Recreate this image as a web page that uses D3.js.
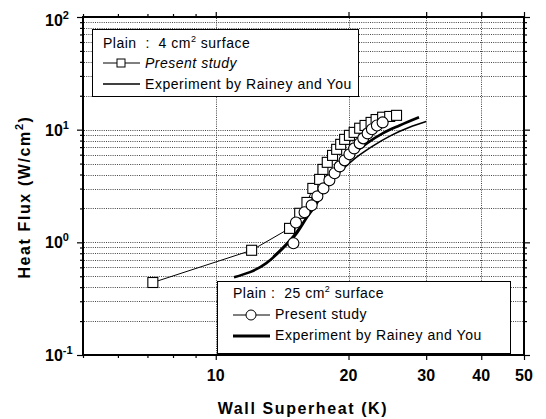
<!DOCTYPE html>
<html>
<head>
<meta charset="utf-8">
<script src="https://cdn.jsdelivr.net/npm/d3@7"></script>
<style>
  body { margin: 0; background: #fff; }
  text { font-family: "Liberation Sans", Arial, Helvetica, sans-serif; fill: #000; white-space: pre; }
</style>
</head>
<body>
<div id="chart"></div>
<script>
// 4 cm2 surface, present study (squares)
const sqX = [7.2, 12.06, 14.7, 15.5, 16.1, 16.6, 17.2, 17.5, 17.9, 18.4, 18.8, 19.2, 19.6, 20.1, 20.6, 21.2, 21.8, 22.5, 23.1, 23.9, 24.8, 25.7];
const sqY = [0.44, 0.85, 1.33, 1.81, 2.26, 3.01, 3.62, 4.44, 5.13, 5.91, 6.69, 7.41, 8.20, 8.90, 9.46, 10.3, 10.9, 11.6, 12.3, 12.9, 13.1, 13.4];

// 25 cm2 surface, present study (circles)
const ciX = [15.0, 15.2, 15.9, 16.5, 17.0, 17.55, 18.1, 18.6, 19.1, 19.6, 20.1, 20.6, 21.2, 21.6, 22.1, 22.6, 23.2, 23.9];
const ciY = [0.98, 1.50, 1.85, 2.13, 2.56, 3.01, 3.55, 4.10, 4.72, 5.34, 6.04, 6.82, 7.56, 8.37, 9.27, 10.1, 10.9, 11.6];

// Rainey and You, 4 cm2 (thin line)
const rThinX = [13.5, 15.0, 16.2, 17.5, 19.0, 20.5, 22.5, 25.0, 27.5, 30.0];
const rThinY = [0.75, 1.15, 1.75, 2.75, 4.1, 5.4, 7.0, 8.9, 10.5, 11.8];

// Rainey and You, 25 cm2 (thick line)
const rThickX = [11.0, 13.0, 14.2, 15.25, 16.1, 17.1, 17.8, 19.1, 20.1, 22.0, 23.9, 26.1, 28.9];
const rThickY = [0.49, 0.65, 0.885, 1.20, 1.67, 2.36, 3.34, 4.54, 5.68, 7.56, 9.27, 10.9, 12.9];

// axis ticks
const xMajor = [10, 20, 30, 40, 50];
const xGrid = [10, 20, 30, 40];
const yMajor = [0.1, 1, 10, 100];
const yExp = [-1, 0, 1, 2];

const width = 546, height = 419;
const svg = d3.select('#chart')
    .append('svg')
    .attr('width', width)
    .attr('height', height);

const x = d3.scaleLog().domain([5, 50]).range([83, 524]);
const y = d3.scaleLog().domain([0.1, 100]).range([355, 17]);

const xMinor = x.ticks().filter(d => xMajor.indexOf(d) < 0);
const yAll = y.ticks();
const yMinor = yAll.filter(d => yMajor.indexOf(d) < 0);

// grid
svg.append('g')
    .selectAll('line')
    .data(yAll.filter(d => d > 0.1 && d < 100))
    .enter()
    .append('line')
    .attr('x1', 84).attr('x2', 523)
    .attr('y1', d => Math.round(y(d)) + 0.5)
    .attr('y2', d => Math.round(y(d)) + 0.5)
    .attr('stroke', '#444')
    .attr('stroke-width', 1)
    .attr('stroke-dasharray', '1,1.2');

svg.append('g')
    .selectAll('line')
    .data(xGrid)
    .enter()
    .append('line')
    .attr('x1', d => Math.round(x(d)) + 0.5)
    .attr('x2', d => Math.round(x(d)) + 0.5)
    .attr('y1', 18).attr('y2', 354)
    .attr('stroke', '#444')
    .attr('stroke-width', 1)
    .attr('stroke-dasharray', '1,1.2');

// axes (ticks outward on all four sides)
function tickAxis(axisFn, scale, values, size, tr) {
    const g = svg.append('g')
        .attr('transform', tr)
        .call(axisFn(scale).tickValues(values).tickSize(size).tickFormat(''));
    g.select('.domain').remove();
    g.selectAll('line').attr('stroke', '#000').attr('stroke-width', 1.2);
    return g;
}
tickAxis(d3.axisBottom, x, xMinor, 3, 'translate(0,355)');
tickAxis(d3.axisBottom, x, xMajor, 5, 'translate(0,355)');
tickAxis(d3.axisTop, x, xMinor, 3, 'translate(0,17)');
tickAxis(d3.axisTop, x, xMajor, 5, 'translate(0,17)');
tickAxis(d3.axisLeft, y, yMinor, 3, 'translate(83,0)');
tickAxis(d3.axisLeft, y, yMajor, 6, 'translate(83,0)');
tickAxis(d3.axisRight, y, yMinor, 3, 'translate(524,0)');
tickAxis(d3.axisRight, y, yMajor, 6, 'translate(524,0)');

// x tick labels
svg.append('g')
    .selectAll('text')
    .data(xMajor)
    .enter()
    .append('text')
    .attr('x', d => x(d))
    .attr('y', 381)
    .attr('text-anchor', 'middle')
    .style('font-size', '16px')
    .style('font-weight', 'bold')
    .text(d => d);

// y tick labels 10^n
const yl = svg.append('g')
    .selectAll('text')
    .data(yMajor)
    .enter()
    .append('text')
    .attr('x', 45)
    .attr('y', (d, i) => Math.max(y(d) + 6, 26))
    .style('font-size', '16px')
    .style('font-weight', 'bold');
yl.append('tspan').text('10');
yl.append('tspan')
    .attr('dy', -7)
    .style('font-size', '11px')
    .text((d, i) => yExp[i] < 0 ? '-' + Math.abs(yExp[i]) : yExp[i]);

// axis titles
svg.append('text')
    .attr('x', 303)
    .attr('y', 414)
    .attr('text-anchor', 'middle')
    .style('font-size', '16px')
    .style('font-weight', 'bold')
    .style('letter-spacing', '1.6px')
    .text('Wall Superheat (K)');

const yt = svg.append('text')
    .attr('transform', 'translate(30,197) rotate(-90)')
    .attr('text-anchor', 'middle')
    .style('font-size', '16px')
    .style('font-weight', 'bold')
    .style('letter-spacing', '1.6px');
yt.append('tspan').text('Heat Flux (W/cm');
yt.append('tspan').attr('dy', -7).style('font-size', '11px').text('2');
yt.append('tspan').attr('dy', 7).text(')');

// Rainey and You curves
const curve = d3.line()
    .x(d => x(d[0]))
    .y(d => y(d[1]))
    .curve(d3.curveMonotoneX);

svg.append('path')
    .datum(rThinX.map((v, i) => [v, rThinY[i]]))
    .attr('d', curve)
    .attr('fill', 'none')
    .attr('stroke', '#000')
    .attr('stroke-width', 1.6);

svg.append('path')
    .datum(rThickX.map((v, i) => [v, rThickY[i]]))
    .attr('d', curve)
    .attr('fill', 'none')
    .attr('stroke', '#000')
    .attr('stroke-width', 2.6);

// present study: connecting lines
const straight = d3.line().x(d => x(d[0])).y(d => y(d[1]));
const sqData = sqX.map((v, i) => [v, sqY[i]]);
const ciData = ciX.map((v, i) => [v, ciY[i]]);

svg.append('path')
    .datum(sqData)
    .attr('d', straight)
    .attr('fill', 'none')
    .attr('stroke', '#000')
    .attr('stroke-width', 1);

svg.append('path')
    .datum(ciData)
    .attr('d', straight)
    .attr('fill', 'none')
    .attr('stroke', '#000')
    .attr('stroke-width', 1);

// markers
svg.append('g')
    .selectAll('rect')
    .data(sqData)
    .enter()
    .append('rect')
    .attr('x', d => x(d[0]) - 5)
    .attr('y', d => y(d[1]) - 5)
    .attr('width', 10)
    .attr('height', 10)
    .attr('fill', '#fff')
    .attr('stroke', '#000')
    .attr('stroke-width', 1.1);

svg.append('g')
    .selectAll('circle')
    .data(ciData)
    .enter()
    .append('circle')
    .attr('cx', d => x(d[0]))
    .attr('cy', d => y(d[1]))
    .attr('r', 5.5)
    .attr('fill', '#fff')
    .attr('stroke', '#000')
    .attr('stroke-width', 1.1);

// frame
svg.append('rect')
    .attr('x', 83).attr('y', 17)
    .attr('width', 441).attr('height', 338)
    .attr('fill', 'none')
    .attr('stroke', '#000')
    .attr('stroke-width', 2);

// legend 1 (4 cm2)
const lg1 = svg.append('g');
lg1.append('rect')
    .attr('x', 92.5).attr('y', 29.5)
    .attr('width', 266).attr('height', 67)
    .attr('fill', '#fff')
    .attr('stroke', '#000')
    .attr('stroke-width', 1);
const t1 = lg1.append('text').attr('x', 103).attr('y', 48).style('font-size', '14px').style('letter-spacing', '0.5px');
t1.append('tspan').text('Plain  :  4 cm');
t1.append('tspan').attr('dy', -6).style('font-size', '9px').text('2');
t1.append('tspan').attr('dy', 6).text(' surface');
lg1.append('line').attr('x1', 103).attr('x2', 140).attr('y1', 63).attr('y2', 63).attr('stroke', '#000');
lg1.append('rect').attr('x', 117).attr('y', 59).attr('width', 8).attr('height', 8)
    .attr('fill', '#fff').attr('stroke', '#000');
lg1.append('text').attr('x', 145).attr('y', 68).style('font-size', '14px').style('font-style', 'italic')
    .style('letter-spacing', '0.5px').text('Present study');
lg1.append('line').attr('x1', 103).attr('x2', 140).attr('y1', 84).attr('y2', 84)
    .attr('stroke', '#000').attr('stroke-width', 1.5);
lg1.append('text').attr('x', 145).attr('y', 89).style('font-size', '14px')
    .style('letter-spacing', '0.55px').text('Experiment by Rainey and You');

// legend 2 (25 cm2)
const lg2 = svg.append('g');
lg2.append('rect')
    .attr('x', 217.5).attr('y', 281.5)
    .attr('width', 293).attr('height', 72)
    .attr('fill', '#fff')
    .attr('stroke', '#000')
    .attr('stroke-width', 1);
const t2 = lg2.append('text').attr('x', 233).attr('y', 298).style('font-size', '14px').style('letter-spacing', '0.5px');
t2.append('tspan').text('Plain :  25 cm');
t2.append('tspan').attr('dy', -6).style('font-size', '9px').text('2');
t2.append('tspan').attr('dy', 6).text(' surface');
lg2.append('line').attr('x1', 233).attr('x2', 270).attr('y1', 315).attr('y2', 315).attr('stroke', '#000');
lg2.append('circle').attr('cx', 251).attr('cy', 315).attr('r', 5)
    .attr('fill', '#fff').attr('stroke', '#000');
lg2.append('text').attr('x', 275).attr('y', 319).style('font-size', '14px')
    .style('letter-spacing', '0.5px').text('Present study');
lg2.append('line').attr('x1', 233).attr('x2', 270).attr('y1', 336).attr('y2', 336)
    .attr('stroke', '#000').attr('stroke-width', 3);
lg2.append('text').attr('x', 275).attr('y', 340).style('font-size', '14px')
    .style('letter-spacing', '0.55px').text('Experiment by Rainey and You');
</script>
</body>
</html>
